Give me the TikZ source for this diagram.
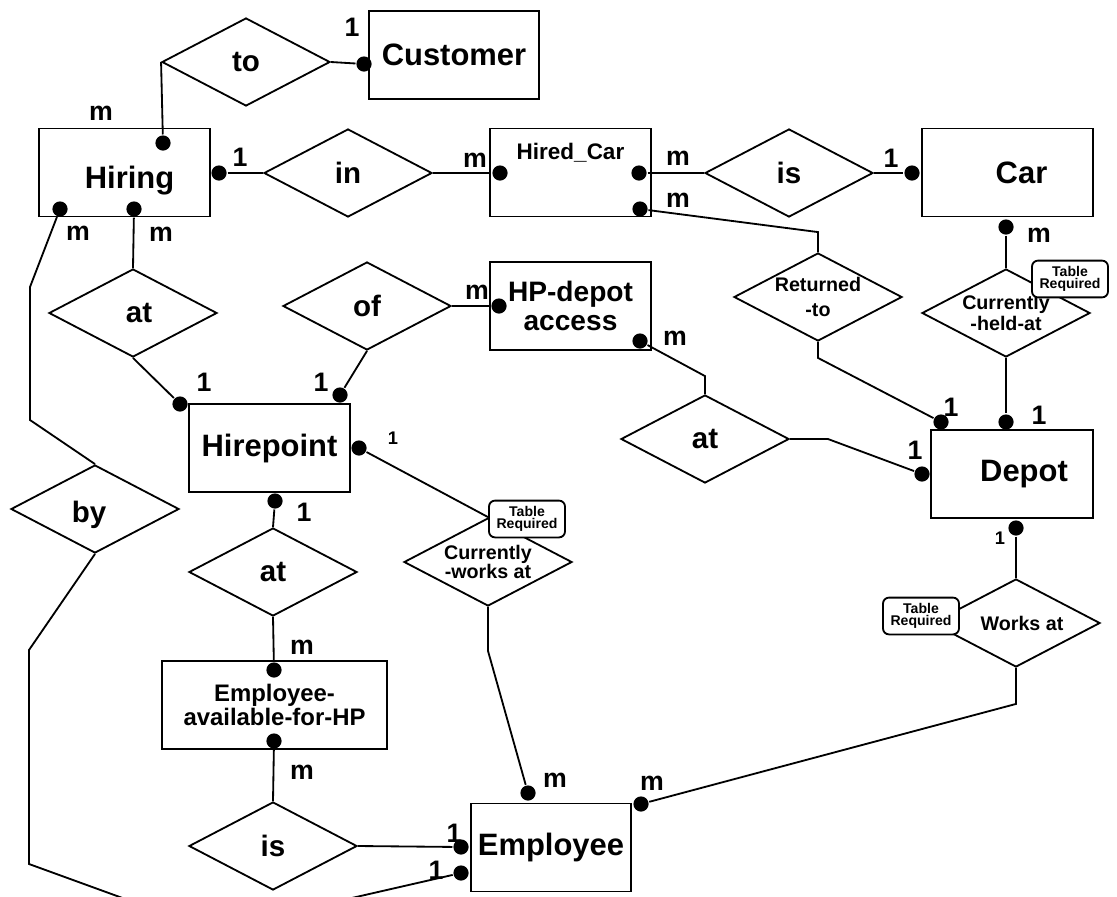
\documentclass[tikz,border=0pt]{standalone}
\usepackage{fontspec}
\setmainfont{Liberation Sans}
\usepackage{tikz}
\usetikzlibrary{shapes.geometric}
\tikzset{
    ent_node/.style = {rectangle, draw=black, minimum height=2.2cm, inner sep=0pt, align=center, font=\fontsize{22}{22}\selectfont\bfseries},
    rel_node/.style = {diamond, draw=black, fill=white, aspect=1.9, minimum width=4.2cm, minimum height=2.2cm, inner sep=0pt, align=center, font=\fontsize{21}{21}\selectfont\bfseries},
    dot_node/.style = {circle, fill=black, inner sep=0pt, minimum size=0.38cm},
    card/.style = {inner sep=0pt, font=\fontsize{19}{19}\selectfont\bfseries},
    small_card/.style = {inner sep=0pt, font=\fontsize{13}{13}\selectfont\bfseries},
    tag_node/.style = {rectangle, draw=black, fill=white, rounded corners=0.15cm, minimum width=1.9cm, minimum height=0.92cm, inner sep=0pt, align=center, font=\fontsize{10}{8.5}\selectfont\bfseries}
}

\begin{document}
\begin{tikzpicture}[x=0.025cm, y=-0.025cm, line width=1.3pt]
    \useasboundingbox (0,0) rectangle (1117,896);

    \node[ent_node, minimum width=4.25cm] (customer) at (454,55) {Customer};
    \node[ent_node, minimum width=4.275cm, text height=0.95cm] (hiring) at (124.5,172.5) {\hspace*{0.25cm}Hiring};
    \node[ent_node, minimum width=4.025cm, text depth=1.05cm, font=\fontsize{16}{16}\selectfont\bfseries] (hired_car) at (570.5,172.5) {Hired\_Car};
    \node[ent_node, minimum width=4.275cm] (car) at (1007.5,172.5) {\hspace*{0.7cm}Car};
    \node[ent_node, minimum width=4.025cm, font=\fontsize{20}{20.5}\selectfont\bfseries] (hp_access) at (570.5,306) {HP-depot\\access};
    \node[ent_node, minimum width=4.025cm] (hirepoint) at (269.5,448) {Hirepoint};
    \node[ent_node, minimum width=4.05cm] (depot) at (1012,474) {\hspace*{0.6cm}Depot};
    \node[ent_node, minimum width=5.625cm, font=\fontsize{17}{17}\selectfont\bfseries] (emp_avail) at (274.5,705) {Employee-\\available-for-HP};
    \node[ent_node, minimum width=4cm] (employee) at (551,847.5) {Employee};

    \node[rel_node] (to) at (246,62) {to};
    \node[rel_node] (in) at (348,173) {in};
    \node[rel_node] (is_car) at (789,173) {is};
    \node[rel_node] (at_hiring) at (133,313) {\hspace*{0.3cm}at};
    \node[rel_node] (of) at (367,306) {of};
    \node[rel_node, font=\fontsize{14}{17.8}\selectfont\bfseries] (returned) at (818,297) {Returned\\-to};
    \node[rel_node, font=\fontsize{14}{15}\selectfont\bfseries] (held) at (1006,313) {Currently\\-held-at};
    \node[rel_node] (at_depot) at (705,439) {at};
    \node[rel_node, text height=0.85cm] (by) at (95,509) {by\hspace*{0.3cm}};
    \node[rel_node] (at_hp) at (273,572) {at};
    \node[rel_node, font=\fontsize{14}{11.4}\selectfont\bfseries] (cur_works) at (488,562) {Currently\\-works at};
    \node[rel_node, font=\fontsize{14}{14}\selectfont\bfseries] (works_at) at (1016,623) {\hspace*{0.3cm}Works at};
    \node[rel_node] (is_emp) at (273,846) {is};

    \node[tag_node] (tag_held) at (1070,279) {Table\\Required};
    \node[tag_node] (tag_cur) at (527,519) {Table\\Required};
    \node[tag_node] (tag_works) at (921,616) {Table\\Required};

    \node[dot_node] (cust_d) at (364,64) {};
    \node[dot_node] (hiring_t) at (163,143) {};
    \node[dot_node] (hiring_r) at (219,173) {};
    \node[dot_node] (hiring_bl) at (60,209) {};
    \node[dot_node] (hiring_bm) at (134,209) {};
    \node[dot_node] (hc_l) at (500,173) {};
    \node[dot_node] (hc_r) at (639,173) {};
    \node[dot_node] (hc_br) at (640,209) {};
    \node[dot_node] (car_l) at (912,173) {};
    \node[dot_node] (car_b) at (1006,227) {};
    \node[dot_node] (hp_l) at (499,306) {};
    \node[dot_node] (hp_br) at (640,341) {};
    \node[dot_node] (hirep_tl) at (180,404) {};
    \node[dot_node] (hirep_tr) at (340,395) {};
    \node[dot_node] (hirep_r) at (359,448) {};
    \node[dot_node] (hirep_b) at (275,501) {};
    \node[dot_node] (depot_tl) at (941,422) {};
    \node[dot_node] (depot_t) at (1006,422) {};
    \node[dot_node] (depot_l) at (922,474) {};
    \node[dot_node] (depot_b) at (1016,528) {};
    \node[dot_node] (avail_t) at (274,670) {};
    \node[dot_node] (avail_b) at (274,741) {};
    \node[dot_node] (emp_t) at (528,793) {};
    \node[dot_node] (emp_tr) at (641,804) {};
    \node[dot_node] (emp_l) at (461,847) {};
    \node[dot_node] (emp_lb) at (461,873) {};

    \draw (to.east) -- (cust_d);
    \draw (to.west) -- (hiring_t);
    \draw (hiring_r) -- (in.west);
    \draw (in.east) -- (hc_l);
    \draw (hc_r) -- (is_car.west);
    \draw (is_car.east) -- (car_l);
    \draw (returned.north) -- ++(0,-20) -- (hc_br);
    \draw (car_b) -- (held.north);
    \draw (held.south) -- (depot_t);
    \draw (returned.south) -- ++(0,16) -- (depot_tl);
    \draw (at_depot.north) -- ++(0,-18) -- (hp_br);
    \draw (at_depot.east) -- ++(38,0) -- (depot_l);
    \draw (depot_b) -- (works_at.north);
    \draw (works_at.south) -- ++(0,36) -- (emp_tr);
    \draw (hiring_bm) -- (at_hiring.north);
    \draw (at_hiring.south) -- (hirep_tl);
    \draw (of.east) -- (hp_l);
    \draw (of.south) -- (hirep_tr);
    \draw (hirep_r) -- (cur_works.north);
    \draw (cur_works.south) -- ++(0,44) -- (emp_t);
    \draw (hirep_b) -- (at_hp.north);
    \draw (at_hp.south) -- (avail_t);
    \draw (avail_b) -- (is_emp.north);
    \draw (is_emp.east) -- (emp_l);
    \draw (hiring_bl) -- (30,287) -- (30,420) -- (by.north);
    \draw (by.south) -- (29,650) -- (29,864) -- (128,900) -- (343,900) -- (emp_lb);

    \node[card] (c_cust) at (352,27) {1};
    \node[card] (c_hiring_t) at (101,113) {m};
    \node[card] (c_hiring_r) at (240,157) {1};
    \node[card] (c_hc_l) at (475,160) {m};
    \node[card] (c_hiring_bl) at (78,233) {m};
    \node[card] (c_hiring_bm) at (161,234) {m};
    \node[card] (c_hc_r) at (678,158) {m};
    \node[card] (c_hc_br) at (678,200) {m};
    \node[card] (c_car_l) at (891,158) {1};
    \node[card] (c_car_b) at (1039,235) {m};
    \node[card] (c_hp_l) at (477,292) {m};
    \node[card] (c_hp_br) at (675,338) {m};
    \node[card] (c_hirep_tl) at (204,382) {1};
    \node[card] (c_hirep_tr) at (321,382) {1};
    \node[small_card] (c_hirep_r) at (393,438) {1};
    \node[card] (c_hirep_b) at (304,512) {1};
    \node[card] (c_depot_tl) at (951,407) {1};
    \node[card] (c_depot_t) at (1039,415) {1};
    \node[card] (c_depot_l) at (915,450) {1};
    \node[small_card] (c_depot_b) at (1000,538) {1};
    \node[card] (c_avail_t) at (302,647) {m};
    \node[card] (c_avail_b) at (302,772) {m};
    \node[card] (c_emp_t) at (555,780) {m};
    \node[card] (c_emp_tr) at (652,783) {m};
    \node[card] (c_emp_l) at (454,833) {1};
    \node[card] (c_emp_lb) at (436,870) {1};
\end{tikzpicture}
\end{document}
